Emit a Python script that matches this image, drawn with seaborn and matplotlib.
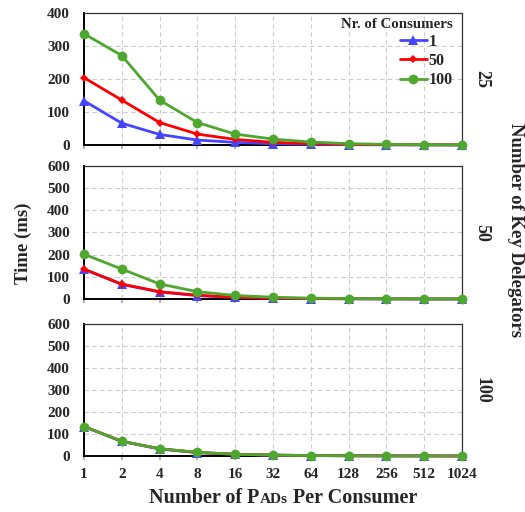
import matplotlib
matplotlib.use("Agg")
import matplotlib.pyplot as plt
import seaborn as sns
from matplotlib.lines import Line2D

# PADs per consumer (x axis, log2 spaced)
pads = [1, 2, 4, 8, 16, 32, 64, 128, 256, 512, 1024]
pad_labels = ["1", "2", "4", "8", "16", "32", "64", "128", "256", "512", "1024"]

consumers = ["1", "50", "100"]
delegators = ["25", "50", "100"]

# Time (ms) with 25 key delegators
kd25_c1 = [134, 66, 32, 15, 8, 4, 2, 1, 0.5, 0.3, 0.1]
kd25_c50 = [204, 136, 68, 33, 17, 8, 4, 2, 1, 0.5, 0.3]
kd25_c100 = [337, 271, 136, 68, 33, 18, 9, 4, 2, 1, 0.5]

# Time (ms) with 50 key delegators
kd50_c1 = [134, 66, 32, 15, 8, 4, 2, 1, 0.5, 0.3, 0.1]
kd50_c50 = [135, 67, 33, 17, 8, 4, 2, 1, 0.5, 0.3, 0.1]
kd50_c100 = [202, 135, 68, 33, 16, 8, 4, 2, 1, 0.5, 0.3]

# Time (ms) with 100 key delegators
kd100_c1 = [134, 66, 32, 15, 8, 4, 2, 1, 0.5, 0.3, 0.1]
kd100_c50 = [134, 67, 33, 16, 8, 4, 2, 1, 0.5, 0.3, 0.1]
kd100_c100 = [134, 67, 33, 17, 8, 4, 2, 1, 0.5, 0.3, 0.1]

panels = [
    ("25", [kd25_c1, kd25_c50, kd25_c100], 400, [0, 100, 200, 300, 400]),
    ("50", [kd50_c1, kd50_c50, kd50_c100], 600, [0, 100, 200, 300, 400, 500, 600]),
    ("100", [kd100_c1, kd100_c50, kd100_c100], 600, [0, 100, 200, 300, 400, 500, 600]),
]

colors = ["#4545ff", "#ff0000", "#4ea72e"]
markers = ["^", "D", "o"]
msizes = [6.5, 4.5, 7.0]

sns.set_theme(style="white")
plt.rcParams["font.family"] = ["Liberation Serif", "DejaVu Serif"]
plt.rcParams["font.weight"] = "bold"

fig = plt.figure(figsize=(5.25, 5.12), dpi=100)

# axes boxes in figure fractions (left, bottom, width, height)
boxes = [
    (0.160, 0.7168, 0.720, 0.2578),
    (0.160, 0.4160, 0.720, 0.2598),
    (0.160, 0.1094, 0.720, 0.2578),
]

tick_font = dict(fontsize=11, fontweight="bold")
axes = []
for i, ((row_label, series, ymax, yticks), box) in enumerate(zip(panels, boxes)):
    ax = fig.add_axes(box)
    axes.append(ax)
    for vals, col, mk, ms in zip(series, colors, markers, msizes):
        sns.lineplot(x=pads, y=vals, ax=ax, color=col, marker=mk,
                     markersize=ms, markeredgewidth=0, linewidth=2.0,
                     clip_on=False, zorder=3)
    ax.set_xscale("log", base=2)
    ax.set_xlim(1, 1024)
    ax.set_ylim(0, ymax)
    ax.set_xticks(pads)
    ax.minorticks_off()
    ax.set_yticks(yticks)
    ax.set_yticklabels([str(v) for v in yticks], **tick_font)
    if i == 2:
        ax.set_xticklabels(pad_labels, **tick_font)
    else:
        ax.set_xticklabels([])
    ax.tick_params(axis="x", which="both", direction="out", length=3,
                   color="#aaaaaa", pad=6, bottom=True)
    ax.tick_params(axis="y", length=0, pad=10)
    ax.grid(True, linestyle=(0, (4, 3)), color="#cccccc", linewidth=0.8)
    ax.set_axisbelow(True)
    for side, sp in ax.spines.items():
        sp.set_visible(True)
        sp.set_color("black" if side in ("left", "bottom") else "#333333")
        sp.set_linewidth(1.4 if side in ("left", "bottom") else 0.9)
    ax.set_xlabel("")
    ax.set_ylabel("")
    yc = box[1] + box[3] / 2
    fig.text(0.918, yc, row_label, rotation=-90, ha="center", va="center",
             fontsize=13, fontweight="bold")

# legend inside the top panel
handles = [Line2D([0], [0], color=c, marker=m, markersize=s, markeredgewidth=0,
                  linewidth=2.0) for c, m, s in zip(colors, markers, msizes)]
leg = axes[0].legend(handles, consumers, title="Nr. of Consumers",
                     loc="upper right", bbox_to_anchor=(0.975, 0.965),
                     frameon=False, fontsize=11.5,
                     title_fontproperties={"weight": "bold", "size": 10.7},
                     handlelength=1.7, handletextpad=0.1, labelspacing=0.2,
                     borderaxespad=0.0, borderpad=0.0, alignment="right")
leg._legend_handle_box.sep = 6
for t in leg.get_texts():
    t.set_fontweight("bold")

# axis titles
fig.text(0.044, 0.525, "Time (ms)", rotation=90, ha="center", va="center",
         fontsize=13.5, fontweight="bold")
fig.text(0.981, 0.55, "Number of Key Delegators", rotation=-90, ha="center",
         va="center", fontsize=13.5, fontweight="bold")

# x label with small-caps "PADs"
renderer = fig.canvas.get_renderer()
parts = [("Number of P", 14.5), ("ADs", 11), (" Per Consumer", 14.5)]
texts = []
for s, fs in parts:
    texts.append(fig.text(0, 0.018, s, ha="left", va="baseline",
                          fontsize=fs, fontweight="bold"))
widths = [t.get_window_extent(renderer).width for t in texts]
total = sum(widths)
center_px = 0.539 * fig.bbox.width
x = center_px - total / 2
for t, w in zip(texts, widths):
    t.set_x(x / fig.bbox.width)
    x += w

fig.savefig("out.png", dpi=100)
